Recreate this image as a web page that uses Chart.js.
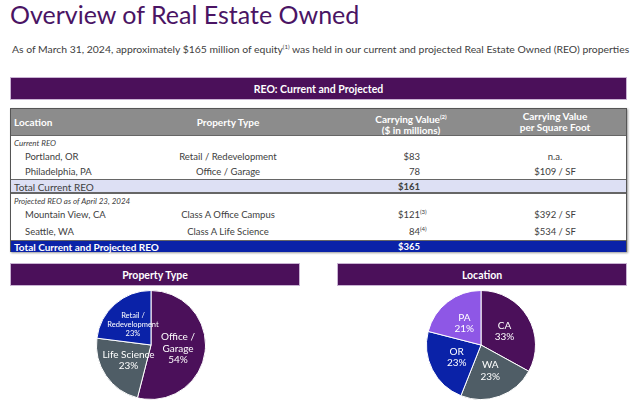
<!DOCTYPE html>
<html>
<head>
<meta charset="utf-8">
<script src="https://cdn.jsdelivr.net/npm/chart.js@4"></script>
<style>
  body { margin:0; width:640px; height:410px; overflow:hidden; background:#fff; font-family:'Lato', sans-serif; position:relative; }
  .abs { position:absolute; white-space:nowrap; }
  #title { left:10px; top:-1px; font-size:25px; color:#4a1464; line-height:30px; }
  #sub { left:12px; top:43px; font-size:10.4px; color:#404040; }
  sup { font-size:6px; vertical-align:4px; }
  .bar { position:absolute; background:#4b105a; color:#fff; font-weight:bold; text-align:center; border:1px solid #c9b3d3; box-sizing:border-box; }
  #tbl { position:absolute; left:10px; top:108px; width:617px; height:144px; border:1px solid #555; box-sizing:border-box; box-shadow:1px 1px 2px #999; }
  .row { position:absolute; left:0; width:615px; box-sizing:border-box; }
  .cell { position:absolute; white-space:nowrap; font-size:9.5px; color:#404040; }
  .num { position:relative; }
  .num sup { position:absolute; left:100%; top:0px; line-height:6px; }
</style>
</head>
<body>
<div id="title" class="abs">Overview of Real Estate Owned</div>
<div id="sub" class="abs">As of March 31, 2024, approximately $165 million of equity<sup>(1)</sup> was held in our current and projected Real Estate Owned (REO) properties</div>

<div class="bar" style="left:10px;top:77px;width:617px;height:23px;line-height:22px;font-size:10.5px">REO: Current and Projected</div>
<div id="tbl"></div>

<div class="bar" style="left:10px;top:263px;width:290px;height:23px;line-height:22px;font-size:10.5px">Property Type</div>
<div class="bar" style="left:337px;top:263px;width:290px;height:23px;line-height:22px;font-size:10.5px">Location</div>

<canvas id="propChart" class="abs" style="left:94px;top:288px" width="114" height="114"></canvas>
<canvas id="locChart" class="abs" style="left:424px;top:288px" width="114" height="114"></canvas>

<script>
// table data
const locations = ['Portland, OR', 'Philadelphia, PA', 'Mountain View, CA', 'Seattle, WA'];
const propTypes = ['Retail / Redevelopment', 'Office / Garage', 'Class A Office Campus', 'Class A Life Science'];
const carryVals = ['$83', '78', '$121', '84'];
const carryNotes = ['', '', '(3)', '(4)'];
const perSqFt = ['n.a.', '$109 / SF', '$392 / SF', '$534 / SF'];
const totals = ['$161', '$365'];

// pie data
const propLabels = ['Office / Garage', 'Life Science', 'Retail / Redevelopment'];
const propShares = [54, 23, 23];
const propColors = ['#4b105a', '#4f5d66', '#0a22a8'];
const locLabels = ['CA', 'WA', 'OR', 'PA'];
const locShares = [33, 23, 23, 21];
const locColors = ['#4b105a', '#4f5d66', '#0a22a8', '#8e57e6'];

const tbl = document.getElementById('tbl');
const colPT = 217, colCV = 400, numRight = 409, colSF = 544;

function addRow(top, h, bg, borderTop) {
  const r = document.createElement('div');
  r.className = 'row';
  r.style.top = top + 'px';
  r.style.height = h + 'px';
  if (bg) r.style.background = bg;
  if (borderTop) r.style.borderTop = '1px solid #666';
  tbl.appendChild(r);
  return r;
}
function addCell(row, html, x, align, style) {
  const c = document.createElement('div');
  c.className = 'cell';
  c.innerHTML = html;
  c.style.top = '0px';
  c.style.height = row.style.height;
  c.style.lineHeight = row.style.height;
  if (align === 'center') { c.style.left = (x - 100) + 'px'; c.style.width = '200px'; c.style.textAlign = 'center'; }
  else if (align === 'right') { c.style.right = (615 - x) + 'px'; c.style.textAlign = 'right'; }
  else c.style.left = x + 'px';
  Object.assign(c.style, style || {});
  row.appendChild(c);
}

// header
const hdr = addRow(0, 26, '#8c8c8c');
const hs = { color: '#fff', fontWeight: 'bold', fontSize: '10px' };
addCell(hdr, 'Location', 3, 'left', hs);
addCell(hdr, 'Property Type', colPT, 'center', hs);
addCell(hdr, 'Carrying Value<sup>(2)</sup><br>($ in millions)', colCV, 'center', Object.assign({}, hs, { lineHeight: '11px', paddingTop: '2px' }));
addCell(hdr, 'Carrying Value<br>per Square Foot', colSF, 'center', Object.assign({}, hs, { lineHeight: '11px', paddingTop: '2px' }));

const it = { fontStyle: 'italic', fontSize: '8px' };
let r = addRow(26, 14, null, true);
addCell(r, 'Current REO', 3, 'left', it);
const rowTops = [40, 55, 98, 114];
const rowHs = [15, 15, 16, 17];
for (let i = 0; i < locations.length; i++) {
  if (i === 2) {
    r = addRow(84, 14, null, true);
    addCell(r, 'Projected REO as of April 23, 2024', 3, 'left', it);
  }
  r = addRow(rowTops[i], rowHs[i]);
  addCell(r, locations[i], 14, 'left');
  addCell(r, propTypes[i], colPT, 'center');
  addCell(r, '<span class="num">' + carryVals[i] + (carryNotes[i] ? '<sup>' + carryNotes[i] + '</sup>' : '') + '</span>', numRight, 'right');
  addCell(r, perSqFt[i], colSF, 'center');
}
r = addRow(70, 14, '#dde0f4', true);
r.style.borderBottom = '1px solid #666';
addCell(r, 'Total Current REO', 3, 'left', { fontSize: '10px' });
addCell(r, totals[0], numRight, 'right', { fontWeight: 'bold' });
r = addRow(131, 12, '#0a22a8', true);
addCell(r, 'Total Current and Projected REO', 3, 'left', { color: '#fff', fontWeight: 'bold', fontSize: '10px' });
addCell(r, totals[1], numRight, 'right', { color: '#fff', fontWeight: 'bold' });

// labels inside the slices
const sliceLabels = {
  id: 'sliceLabels',
  afterDatasetsDraw(chart) {
    const ctx = chart.ctx;
    const meta = chart.getDatasetMeta(0);
    ctx.save();
    ctx.fillStyle = '#fff';
    ctx.textAlign = 'center';
    ctx.textBaseline = 'middle';
    meta.data.forEach((arc, i) => {
      const p = arc.getCenterPoint();
      const lbl = chart.data.labels[i];
      const lines = lbl.split('/ ').map((s, k, a) => k < a.length - 1 ? s + '/' : s);
      lines.push(chart.data.datasets[0].data[i] + '%');
      const fs = lbl.length > 16 ? 7.5 : 10;
      ctx.font = fs + 'px Lato';
      const lh = fs + 1.5;
      lines.forEach((t, k) => ctx.fillText(t, p.x, p.y + (k - (lines.length - 1) / 2) * lh));
    });
    ctx.restore();
  }
};

function makePie(id, labels, data, colors) {
  new Chart(document.getElementById(id), {
    type: 'pie',
    data: { labels: labels, datasets: [{ data: data, backgroundColor: colors, borderColor: '#fff', borderWidth: 1 }] },
    options: {
      responsive: false, animation: false,
      plugins: { legend: { display: false }, tooltip: { enabled: false } },
      layout: { padding: 2 }
    },
    plugins: [sliceLabels]
  });
}
makePie('propChart', propLabels, propShares, propColors);
makePie('locChart', locLabels, locShares, locColors);
</script>
</body>
</html>
